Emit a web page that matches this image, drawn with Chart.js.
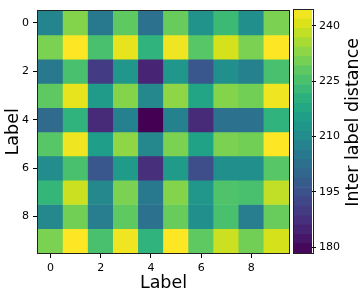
<!DOCTYPE html>
<html>
<head>
<meta charset="utf-8">
<script src="https://cdn.jsdelivr.net/npm/chart.js@4/dist/chart.umd.min.js"></script>
<style>
  html, body { margin: 0; padding: 0; background: #fff; overflow: hidden; }
  #wrap { position: relative; width: 361px; height: 292px; }
  #heatBox { position: absolute; left: 0; top: 0; width: 292px; height: 292px; }
  #cbBox { position: absolute; left: 289px; top: 0; width: 72px; height: 292px; }
</style>
</head>
<body>
<div id="wrap">
  <div id="heatBox"><canvas id="heat"></canvas></div>
  <div id="cbBox"><canvas id="cb"></canvas></div>
</div>
<script>
// ---- data ----
const labelsX = [0, 1, 2, 3, 4, 5, 6, 7, 8, 9];
const labelsY = [0, 1, 2, 3, 4, 5, 6, 7, 8, 9];
const tickLabels = [0, 2, 4, 6, 8];
const colorbarTicks = [180, 195, 210, 225, 240];
const row0 = [208, 232, 205, 228, 203, 229, 212, 223, 211, 231];
const row1 = [231, 244.4, 225, 242, 221, 243, 227, 240, 231, 244.4];
const row2 = [205, 225, 190, 213, 185, 213, 196, 211, 207, 225];
const row3 = [228, 242, 214, 232, 209, 233, 217, 232, 230, 243];
const row4 = [201, 221, 186, 207, 178.4, 207, 186, 203, 203, 221];
const row5 = [227, 243, 215, 233, 209, 231, 216, 231, 230, 244.4];
const row6 = [210, 225, 196, 214, 187, 214, 194, 211, 211, 227];
const row7 = [222, 239, 209, 231, 205, 232, 213, 226, 225, 238];
const row8 = [209, 230, 206, 228, 203, 229, 211, 225, 206, 229];
const row9 = [231, 244.4, 225, 243, 221, 244.4, 228, 239, 230, 240];
const rows = [row0, row1, row2, row3, row4, row5, row6, row7, row8, row9];
const xTitle = 'Label';
const yTitle = 'Label';
const colorbarTitle = 'Inter label distance';
const colorbarBands = 26;

// ---- colormap ----
const VIRIDIS = ['#440154','#48186a','#472d7b','#424086','#3b528b','#33638d','#2c728e','#26828e',
  '#21918c','#1fa088','#28ae80','#3fbc73','#5ec962','#84d44b','#addc30','#d8e219','#fde725'];
function hex2rgb(h) { return [parseInt(h.slice(1,3),16), parseInt(h.slice(3,5),16), parseInt(h.slice(5,7),16)]; }
const VRGB = VIRIDIS.map(hex2rgb);
function viridis(t) {
  t = Math.max(0, Math.min(1, t));
  const p = t * (VRGB.length - 1);
  const i = Math.min(VRGB.length - 2, Math.floor(p));
  const f = p - i;
  const a = VRGB[i], b = VRGB[i + 1];
  return 'rgb(' + [0,1,2].map(k => Math.round(a[k] + (b[k] - a[k]) * f)).join(',') + ')';
}
const allVals = rows.flat();
const vmin = Math.min(...allVals);
const vmax = Math.max(...allVals);
const norm = v => (v - vmin) / (vmax - vmin);

const FONT = "'DejaVu Sans', 'Liberation Sans', sans-serif";
Chart.defaults.font.family = FONT;
Chart.defaults.color = '#000';

const frame = {
  id: 'frame',
  afterDatasetsDraw(chart) {
    const a = chart.chartArea, ctx = chart.ctx;
    ctx.save();
    ctx.strokeStyle = '#222';
    ctx.lineWidth = 1;
    ctx.strokeRect(Math.round(a.left) - 0.5, Math.round(a.top) - 0.5,
                   Math.round(a.right - a.left) + 1, Math.round(a.bottom - a.top) + 1);
    ctx.restore();
  }
};

// ---- heatmap ----
const heatDatasets = rows.map((vals, r) => ({
  data: vals.map((v, c) => ({ x: labelsX[c], y: [labelsY[r] - 0.5, labelsY[r] + 0.5] })),
  backgroundColor: vals.map(v => viridis(norm(v))),
  borderWidth: 0,
  grouped: false,
  barPercentage: 1,
  categoryPercentage: 1
}));

const axisCommon = {
  type: 'linear',
  min: -0.5,
  max: 9.5,
  afterBuildTicks: s => { s.ticks = tickLabels.map(v => ({ value: v })); },
  grid: { offset: false, drawOnChartArea: false, drawTicks: true, tickLength: 5, color: '#000', lineWidth: 1 },
  border: { display: false },
  ticks: { font: { size: 11 }, color: '#000', padding: 4, maxRotation: 0, autoSkip: false }
};

new Chart(document.getElementById('heat'), {
  type: 'bar',
  data: { datasets: heatDatasets },
  options: {
    responsive: true,
    maintainAspectRatio: false,
    animation: false,
    events: [],
    layout: { padding: { top: 2, right: 3, left: 0, bottom: 0 } },
    plugins: { legend: { display: false }, tooltip: { enabled: false } },
    scales: {
      x: Object.assign({}, axisCommon, {
        position: 'bottom',
        offset: false,
        afterFit: s => { s.height = 39; },
        title: { display: true, text: xTitle, font: { size: 17.5, lineHeight: 1 }, padding: { top: 0, bottom: 0 }, color: '#000' }
      }),
      y: Object.assign({}, axisCommon, {
        position: 'left',
        reverse: true,
        afterFit: s => { s.width = 38; },
        title: { display: true, text: yTitle, font: { size: 17.5, lineHeight: 1 }, padding: { top: 5, bottom: 0 }, color: '#000' }
      })
    }
  },
  plugins: [frame]
});

// ---- colorbar ----
const bandStep = (vmax - vmin) / colorbarBands;
const cbDatasets = [];
for (let i = 0; i < colorbarBands; i++) {
  const lo = vmin + i * bandStep, hi = lo + bandStep;
  cbDatasets.push({
    data: [[lo, hi]],
    backgroundColor: viridis((i + 0.5) / colorbarBands),
    borderWidth: 0,
    grouped: false,
    barPercentage: 1,
    categoryPercentage: 1
  });
}

const cbTitle = {
  id: 'cbTitle',
  afterDraw(chart) {
    const ctx = chart.ctx;
    const a = chart.chartArea;
    ctx.save();
    ctx.font = '17.5px ' + FONT;
    ctx.fillStyle = '#000';
    ctx.textAlign = 'center';
    ctx.textBaseline = 'alphabetic';
    ctx.translate(chart.width - 3, (a.top + a.bottom) / 2 - 9);
    ctx.rotate(-Math.PI / 2);
    ctx.fillText(colorbarTitle, 0, 0);
    ctx.restore();
  }
};

new Chart(document.getElementById('cb'), {
  type: 'bar',
  data: { labels: ['cb'], datasets: cbDatasets },
  options: {
    responsive: true,
    maintainAspectRatio: false,
    animation: false,
    events: [],
    layout: { padding: { top: 2, right: 0, left: 4.5, bottom: 39 } },
    plugins: { legend: { display: false }, tooltip: { enabled: false } },
    scales: {
      x: { display: false },
      y: {
        type: 'linear',
        position: 'right',
        min: vmin,
        max: vmax,
        afterBuildTicks: s => { s.ticks = colorbarTicks.map(v => ({ value: v })); },
        afterFit: s => { s.width = 49; },
        grid: { drawOnChartArea: false, drawTicks: true, tickLength: 4, color: '#000' },
        border: { display: false },
        ticks: { font: { size: 11 }, color: '#000', padding: 3 }
      }
    }
  },
  plugins: [frame, cbTitle]
});
</script>
</body>
</html>
